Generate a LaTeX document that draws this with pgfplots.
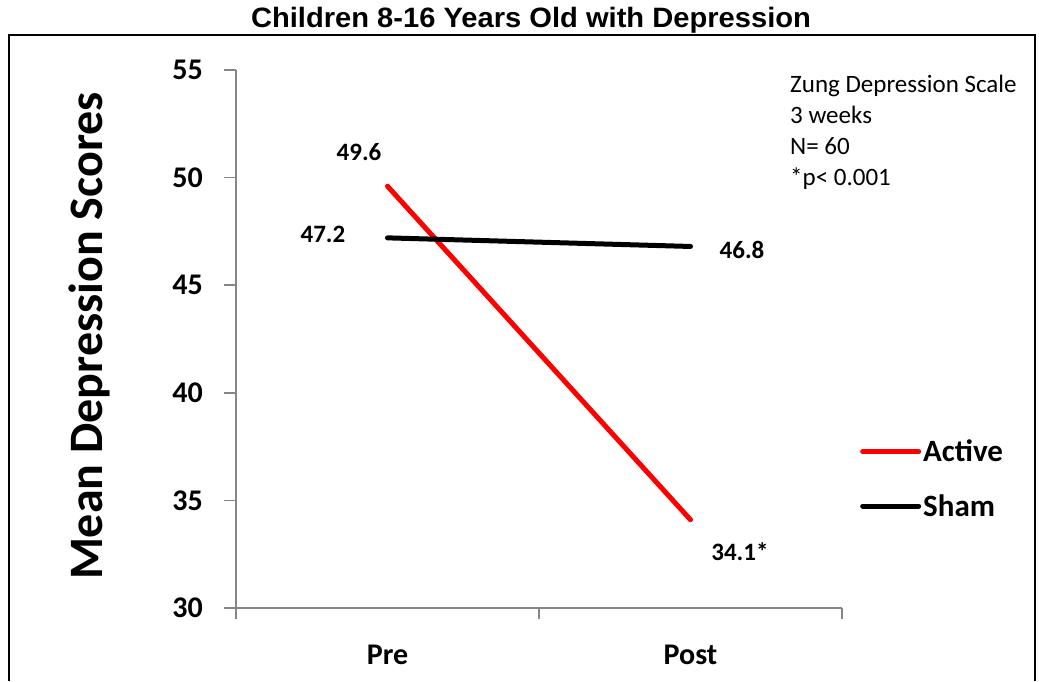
\documentclass[border=0pt]{standalone}
\usepackage{pgfplots}
\pgfplotsset{compat=1.18}
\usepackage{fontspec}
\setmainfont{Carlito}
\newfontfamily\titlefont{Liberation Sans}
\definecolor{axisgray}{RGB}{134,134,134}
\begin{document}
\begin{tikzpicture}[x=1pt,y=1pt]
\path[use as bounding box] (0,0) rectangle (1039,681);
\draw[line width=2.5pt] (9,0) -- (9,646) -- (1035,646) -- (1035,0);
\node[anchor=base, xscale=1.04, font=\titlefont\bfseries\fontsize{28}{32}\selectfont] at (531,653) {Children 8-16 Years Old with Depression};
\node[rotate=90, anchor=base, font=\bfseries\fontsize{48}{56}\selectfont] at (102,345) {Mean Depression Scores};
\begin{axis}[
  at={(236pt,73pt)}, anchor=south west, scale only axis,
  width=606pt, height=538pt,
  xmin=0, xmax=2, ymin=30, ymax=55,
  ytick={30,35,...,55},
  xtick={0.5,1.5}, xticklabels={Pre,Post},
  minor xtick={0,1,2},
  tick align=outside,
  major tick length=12pt,
  minor tick length=11pt,
  major x tick style={draw=none},
  minor x tick style={draw=axisgray, line width=1.5pt},
  y tick style={draw=axisgray, line width=1.5pt},
  axis x line*=bottom, axis y line*=left,
  axis line style={axisgray, line width=1.5pt, -},
  ticklabel style={font=\bfseries\fontsize{30}{36}\selectfont},
  /pgf/number format/assume math mode=true,
  yticklabel style={anchor=east, inner sep=0pt, xshift=-21pt},
  xticklabel style={anchor=base, inner sep=0pt, yshift=-44pt},
  clip=false,
  legend style={at={(1.0297,0.240)}, anchor=west, draw=none, fill=none, inner sep=0pt,
    font=\bfseries\fontsize{31}{36}\selectfont, row sep=27pt, nodes={inner sep=2pt}},
  legend image code/.code={\draw[#1] (0pt,0pt) -- (56pt,0pt);},
  legend cell align=left,
]
\addplot[red, line width=5pt, line cap=round] coordinates {(0.5,49.6) (1.5,34.1)};
\addlegendentry{Active}
\addplot[black, line width=5pt, line cap=round] coordinates {(0.5,47.2) (1.5,46.8)};
\addlegendentry{Sham}
\node[font=\bfseries\fontsize{25}{30}\selectfont] at (axis cs:0.406,51.19) {49.6};
\node[font=\bfseries\fontsize{25}{30}\selectfont] at (axis cs:0.287,47.38) {47.2};
\node[font=\bfseries\fontsize{25}{30}\selectfont] at (axis cs:1.670,46.64) {46.8};
\node[font=\bfseries\fontsize{25}{30}\selectfont] at (axis cs:1.663,32.60) {34.1*};
\end{axis}
\begin{scope}[every node/.style={anchor=base west, inner sep=0pt, font=\fontsize{25}{30}\selectfont}]
\node at (790,588) {Zung Depression Scale};
\node at (790,557) {3 weeks};
\node at (790,526) {N= 60};
\node at (790,495) {*p< 0.001};
\end{scope}
\end{tikzpicture}
\end{document}
